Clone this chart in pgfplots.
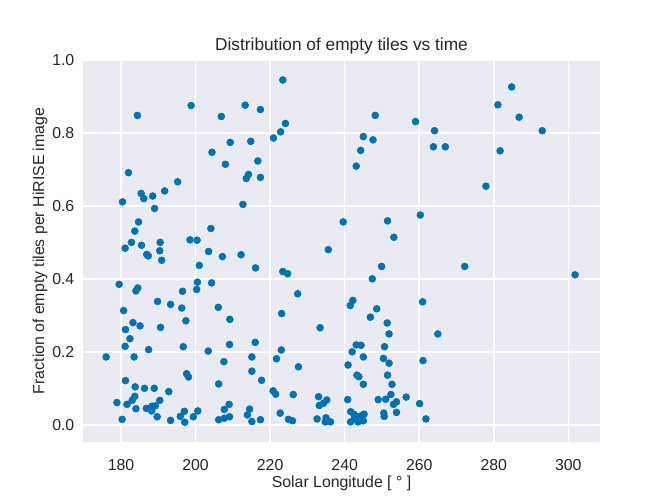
\documentclass[border=0pt]{standalone}
\usepackage{pgfplots}
\pgfplotsset{compat=1.18}
\usepackage{fontspec}
\setmainfont{Liberation Sans}
\definecolor{sbblue}{HTML}{0173B2}
\definecolor{sbbg}{HTML}{EAEAF2}
\definecolor{txt}{HTML}{262626}
\begin{document}
\begin{tikzpicture}
\useasboundingbox (-57.6pt,-38.9pt) rectangle (403.2pt,306.7pt);
\begin{axis}[
  scale only axis,
  width=358.8pt, height=265.1pt,
  at={(0,0)}, anchor=south west,
  xmin=169.8, xmax=308.5,
  ymin=-0.047, ymax=1.0,
  axis background/.style={fill=sbbg},
  axis line style={draw=none},
  major tick length=0pt,
  grid=major,
  major grid style={white, line width=1.1pt},
  xtick={180,200,220,240,260,280,300},
  ytick={0,0.2,0.4,0.6,0.8,1.0},
  /pgf/number format/assume math mode=true,
  yticklabel style={/pgf/number format/fixed, /pgf/number format/fixed zerofill, /pgf/number format/precision=1, xshift=-2.5pt},
  xticklabel style={yshift=-8.5pt},
  tick label style={font=\fontsize{11}{13}\selectfont, text=txt},
  label style={font=\fontsize{11}{13}\selectfont, text=txt},
  title style={font=\fontsize{12}{14}\selectfont, text=txt, yshift=-5.5pt},
  title={Distribution of empty tiles vs time},
  xlabel={Solar Longitude [ ° ]},
  ylabel={Fraction of empty tiles per HiRISE image},
  xlabel style={yshift=3pt},
  ylabel style={yshift=-3.5pt},
]
\addplot[only marks, mark=*, color=sbblue, mark size=2.4pt, mark options={fill=sbblue, draw=sbblue}] table {
x y
184.4 0.848
198.8 0.875
206.9 0.845
213.3 0.876
214.8 0.777
209.3 0.774
204.4 0.747
208.0 0.714
182.0 0.691
195.2 0.666
214.2 0.686
213.6 0.675
216.7 0.723
223.4 0.945
217.4 0.864
224.1 0.826
222.8 0.803
220.9 0.786
217.4 0.678
248.2 0.848
259.0 0.831
245.0 0.790
247.6 0.781
244.3 0.752
243.1 0.709
284.8 0.926
281.1 0.877
286.8 0.843
293.0 0.806
264.1 0.806
263.8 0.762
267.0 0.762
281.7 0.751
185.4 0.634
186.1 0.620
188.5 0.627
191.7 0.641
180.4 0.611
189.0 0.593
212.7 0.604
184.7 0.556
183.7 0.531
204.1 0.538
182.8 0.500
181.1 0.484
185.5 0.492
190.5 0.500
190.4 0.477
186.9 0.467
187.3 0.463
190.9 0.451
198.5 0.507
200.4 0.506
203.5 0.475
207.2 0.461
212.2 0.466
201.0 0.437
216.1 0.430
179.5 0.385
184.5 0.375
184.0 0.367
196.5 0.366
200.5 0.391
204.3 0.389
200.3 0.371
189.8 0.338
193.3 0.330
196.3 0.320
206.1 0.322
180.7 0.313
239.6 0.556
251.5 0.559
260.3 0.575
253.2 0.514
235.6 0.480
223.4 0.420
224.7 0.414
249.9 0.434
247.4 0.400
227.4 0.359
242.2 0.341
241.5 0.327
248.6 0.318
260.9 0.337
277.9 0.654
272.2 0.434
301.8 0.411
183.2 0.280
185.1 0.271
181.2 0.261
190.6 0.267
197.4 0.285
209.2 0.289
182.4 0.236
181.1 0.215
187.4 0.206
196.7 0.214
203.4 0.202
209.1 0.220
216.0 0.226
176.0 0.186
183.5 0.186
207.6 0.173
215.1 0.186
215.1 0.147
197.6 0.140
198.1 0.131
181.2 0.121
206.2 0.112
183.8 0.104
186.3 0.100
188.9 0.100
192.8 0.091
183.7 0.078
183.0 0.067
178.9 0.061
181.6 0.056
190.4 0.067
184.0 0.044
186.8 0.045
187.6 0.044
188.2 0.038
189.2 0.052
188.3 0.051
209.0 0.056
207.7 0.042
197.0 0.037
200.6 0.038
214.5 0.043
213.9 0.027
180.3 0.015
189.7 0.022
193.3 0.012
195.9 0.023
197.1 0.007
199.4 0.022
206.2 0.014
207.7 0.018
209.1 0.022
215.1 0.009
223.1 0.305
233.4 0.266
246.9 0.295
251.4 0.279
251.9 0.249
243.1 0.219
244.4 0.218
242.0 0.200
250.7 0.214
223.0 0.205
221.7 0.181
245.0 0.186
250.4 0.182
251.9 0.169
261.0 0.176
227.6 0.159
240.9 0.164
217.7 0.122
243.3 0.136
243.8 0.132
251.5 0.136
245.0 0.111
252.7 0.111
220.8 0.093
221.5 0.084
226.2 0.083
233.0 0.077
235.2 0.068
234.3 0.059
233.2 0.053
240.8 0.069
249.0 0.069
251.0 0.070
252.4 0.083
256.5 0.076
253.9 0.063
253.1 0.056
260.1 0.058
253.9 0.034
250.5 0.032
250.6 0.023
222.7 0.032
217.4 0.014
224.9 0.015
226.0 0.011
232.6 0.016
235.0 0.019
234.8 0.008
236.2 0.008
241.6 0.036
242.5 0.029
241.6 0.008
243.6 0.008
243.6 0.022
244.5 0.025
245.2 0.029
245.0 0.011
242.6 0.016
261.8 0.016
265.0 0.249
};
\end{axis}
\end{tikzpicture}
\end{document}
